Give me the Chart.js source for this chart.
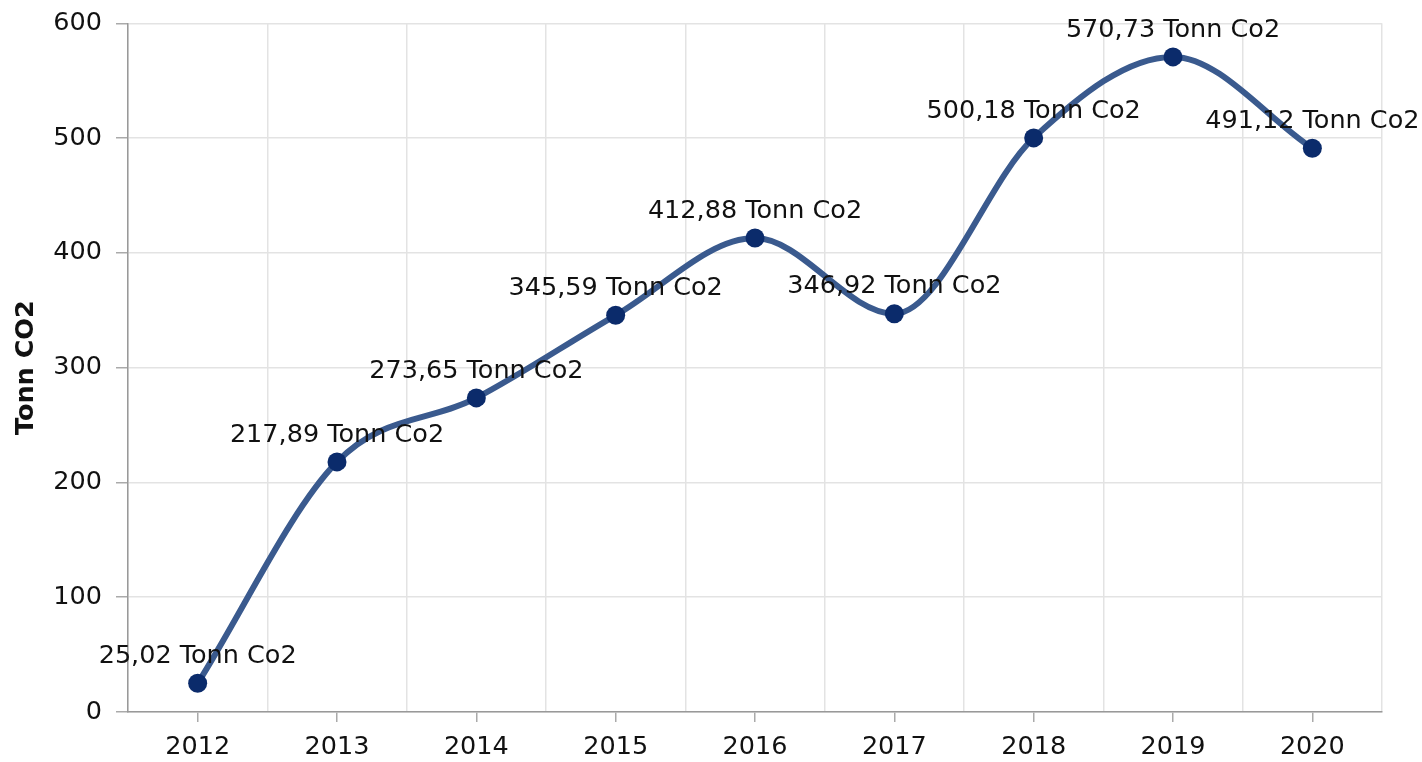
<!DOCTYPE html>
<html>
<head>
<meta charset="utf-8">
<script src="https://cdn.jsdelivr.net/npm/chart.js@4/dist/chart.umd.min.js"></script>
<style>
  html, body { margin: 0; padding: 0; background: #fff; overflow: hidden; }
  #wrap { width: 1422px; height: 768px; margin-top: -6px; }
</style>
</head>
<body>
<div id="wrap"><canvas id="co2Chart"></canvas></div>
<script>
const years = [2012, 2013, 2014, 2015, 2016, 2017, 2018, 2019, 2020];
const tonnes = [25.02, 217.89, 273.65, 345.59, 412.88, 346.92, 500.18, 570.73, 491.12];
const unitLabel = 'Tonn Co2';
const yTitle = 'Tonn CO2';

function formatNum(n) {
  return n.toFixed(2).replace('.', ',');
}

const pointLabels = {
  id: 'pointLabels',
  afterDatasetsDraw(chart) {
    const ctx = chart.ctx;
    const meta = chart.getDatasetMeta(0);
    ctx.save();
    ctx.font = '25.5px "DejaVu Sans", Verdana, sans-serif';
    ctx.fillStyle = '#111';
    ctx.textAlign = 'center';
    ctx.textBaseline = 'middle';
    meta.data.forEach((pt, i) => {
      ctx.fillText(formatNum(tonnes[i]) + ' ' + unitLabel, pt.x, pt.y - 27);
    });
    ctx.restore();
  }
};

const isYear = v => Math.abs(v - Math.round(v)) < 0.01;

document.addEventListener('DOMContentLoaded', function() {
  Chart.defaults.font.family = '"DejaVu Sans", Verdana, sans-serif';
  Chart.defaults.color = '#111';
  const ctx = document.getElementById('co2Chart').getContext('2d');
  new Chart(ctx, {
    type: 'line',
    data: {
      datasets: [{
        data: years.map((y, i) => ({ x: y, y: tonnes[i] })),
        borderColor: '#3a5a8e',
        borderWidth: 6,
        cubicInterpolationMode: 'monotone',
        pointRadius: 9.5,
        pointHoverRadius: 9.5,
        pointBackgroundColor: '#0b2b6b',
        pointBorderWidth: 0,
        fill: false
      }]
    },
    options: {
      responsive: true,
      maintainAspectRatio: false,
      animation: false,
      layout: { autoPadding: false, padding: { top: 17, right: 40, left: 14, bottom: 0 } },
      plugins: { legend: { display: false }, tooltip: { enabled: false } },
      scales: {
        x: {
          type: 'linear',
          min: 2011.5,
          max: 2020.5,
          afterFit: s => { s.height = 50; },
          ticks: {
            stepSize: 0.5,
            autoSkip: false,
            maxRotation: 0,
            padding: 13,
            font: { size: 25.5, lineHeight: 1 },
            callback: v => isYear(v) ? String(Math.round(v)) : ''
          },
          grid: {
            color: c => (c.tick && isYear(c.tick.value)) ? 'rgba(0,0,0,0)' : '#e3e3e3',
            tickColor: c => (c.tick && isYear(c.tick.value)) ? '#aaa' : 'rgba(0,0,0,0)',
            tickLength: 10,
            lineWidth: 1.5
          },
          border: { color: '#999', width: 1.5 }
        },
        y: {
          min: 0,
          max: 600,
          afterFit: s => { s.width = 114; },
          ticks: { stepSize: 100, padding: 14, font: { size: 25.5 } },
          grid: { color: '#e3e3e3', tickColor: '#aaa', tickLength: 12, lineWidth: 1.5 },
          border: { color: '#999', width: 1.5 },
          title: {
            display: true,
            text: yTitle,
            font: { size: 25.5, weight: 'bold', lineHeight: 1 },
            color: '#111',
            padding: { top: 0, bottom: 0 }
          }
        }
      }
    },
    plugins: [pointLabels]
  });
});
</script>
</body>
</html>
